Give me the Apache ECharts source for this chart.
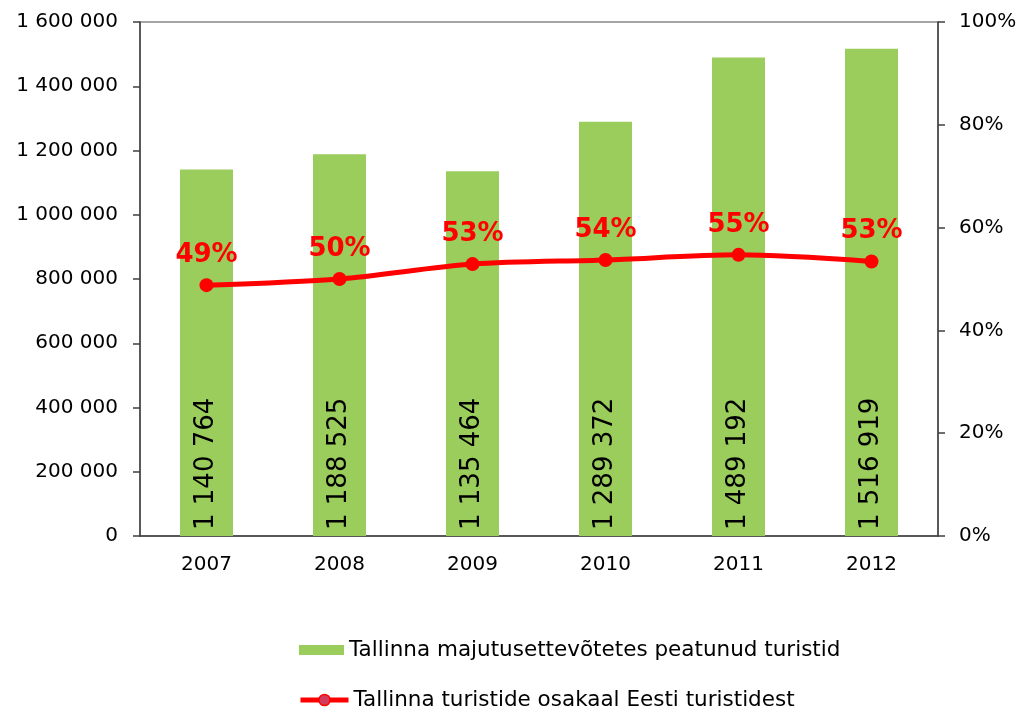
<!DOCTYPE html>
<html>
<head>
    <meta charset="utf-8">
    <title>Tallinna turistid</title>
    <script src="https://cdn.jsdelivr.net/npm/echarts@6/dist/echarts.min.js"></script>
    <style>
        body { margin: 0; background: #fff; }
        #main { width: 1024px; height: 709px; }
    </style>
</head>
<body>
    <div id="main"></div>
    <script type="text/javascript">
        // andmed
        var years = ['2007', '2008', '2009', '2010', '2011', '2012'];
        var tourists = [1140764, 1188525, 1135464, 1289372, 1489192, 1516919];
        var share = [48.8, 50.0, 52.9, 53.7, 54.7, 53.4];

        var barName = 'Tallinna majutusettevõtetes peatunud turistid';
        var lineName = 'Tallinna turistide osakaal Eesti turistidest';

        function spaced(v) {
            return String(v).replace(/\B(?=(\d{3})+(?!\d))/g, ' ');
        }

        var font = '"DejaVu Sans", Verdana, sans-serif';
        var myChart = echarts.init(document.getElementById('main'));

        var option = {
            animation: false,
            textStyle: { fontFamily: font },
            grid: {
                left: 140, right: 86, top: 22, bottom: 173,
                show: true, borderColor: '#888', borderWidth: 1.5
            },
            legend: [{
                data: [{ name: barName, icon: 'rect' }],
                left: 299, top: 639, padding: 0,
                itemWidth: 45, itemHeight: 10,
                textStyle: { fontSize: 21.5, color: '#000', fontFamily: font }
            }, {
                data: [{
                    name: lineName,
                    itemStyle: { color: '#d23c5a', borderColor: '#ff0000', borderWidth: 1.5 },
                    lineStyle: { color: '#ff0000', width: 5 }
                }],
                left: 298, top: 689, padding: 0,
                itemWidth: 48, itemHeight: 14,
                textStyle: { fontSize: 21.5, color: '#000', fontFamily: font }
            }],
            xAxis: {
                type: 'category',
                data: years,
                axisLine: { lineStyle: { color: '#404040', width: 1.5 } },
                axisTick: { length: 9, lineStyle: { color: '#404040', width: 1.5 } },
                axisLabel: { fontSize: 20, color: '#000', margin: 19 }
            },
            yAxis: [{
                type: 'value',
                min: 0, max: 1600000, interval: 200000,
                splitLine: { show: false },
                axisLine: { show: true, lineStyle: { color: '#404040', width: 1.5 } },
                axisTick: { show: true, length: 7, lineStyle: { color: '#404040', width: 1.5 } },
                axisLabel: {
                    fontSize: 20, color: '#000', margin: 22,
                    formatter: function (v) { return spaced(v); }
                }
            }, {
                type: 'value',
                min: 0, max: 100, interval: 20,
                splitLine: { show: false },
                axisLine: { show: true, lineStyle: { color: '#404040', width: 1.5 } },
                axisTick: { show: true, length: 7, lineStyle: { color: '#404040', width: 1.5 } },
                axisLabel: { fontSize: 20, color: '#000', margin: 21, formatter: '{value}%' }
            }],
            series: [{
                name: barName,
                type: 'bar',
                data: tourists,
                barWidth: 53,
                itemStyle: { color: '#9acd5c' },
                label: {
                    show: true,
                    position: 'insideBottom',
                    rotate: 90,
                    align: 'left',
                    verticalAlign: 'middle',
                    distance: 6,
                    fontSize: 26,
                    color: '#000',
                    formatter: function (p) { return spaced(p.value); }
                }
            }, {
                name: lineName,
                type: 'line',
                yAxisIndex: 1,
                data: share,
                smooth: 0.3,
                symbol: 'circle',
                symbolSize: 14,
                lineStyle: { color: '#ff0000', width: 5 },
                itemStyle: { color: '#ff0000' },
                label: {
                    show: true,
                    position: 'top',
                    distance: 10,
                    fontSize: 26,
                    fontWeight: 'bold',
                    color: '#ff0000',
                    formatter: function (p) { return Math.round(p.value) + '%'; }
                }
            }]
        };
        myChart.setOption(option);
    </script>
</body>
</html>
